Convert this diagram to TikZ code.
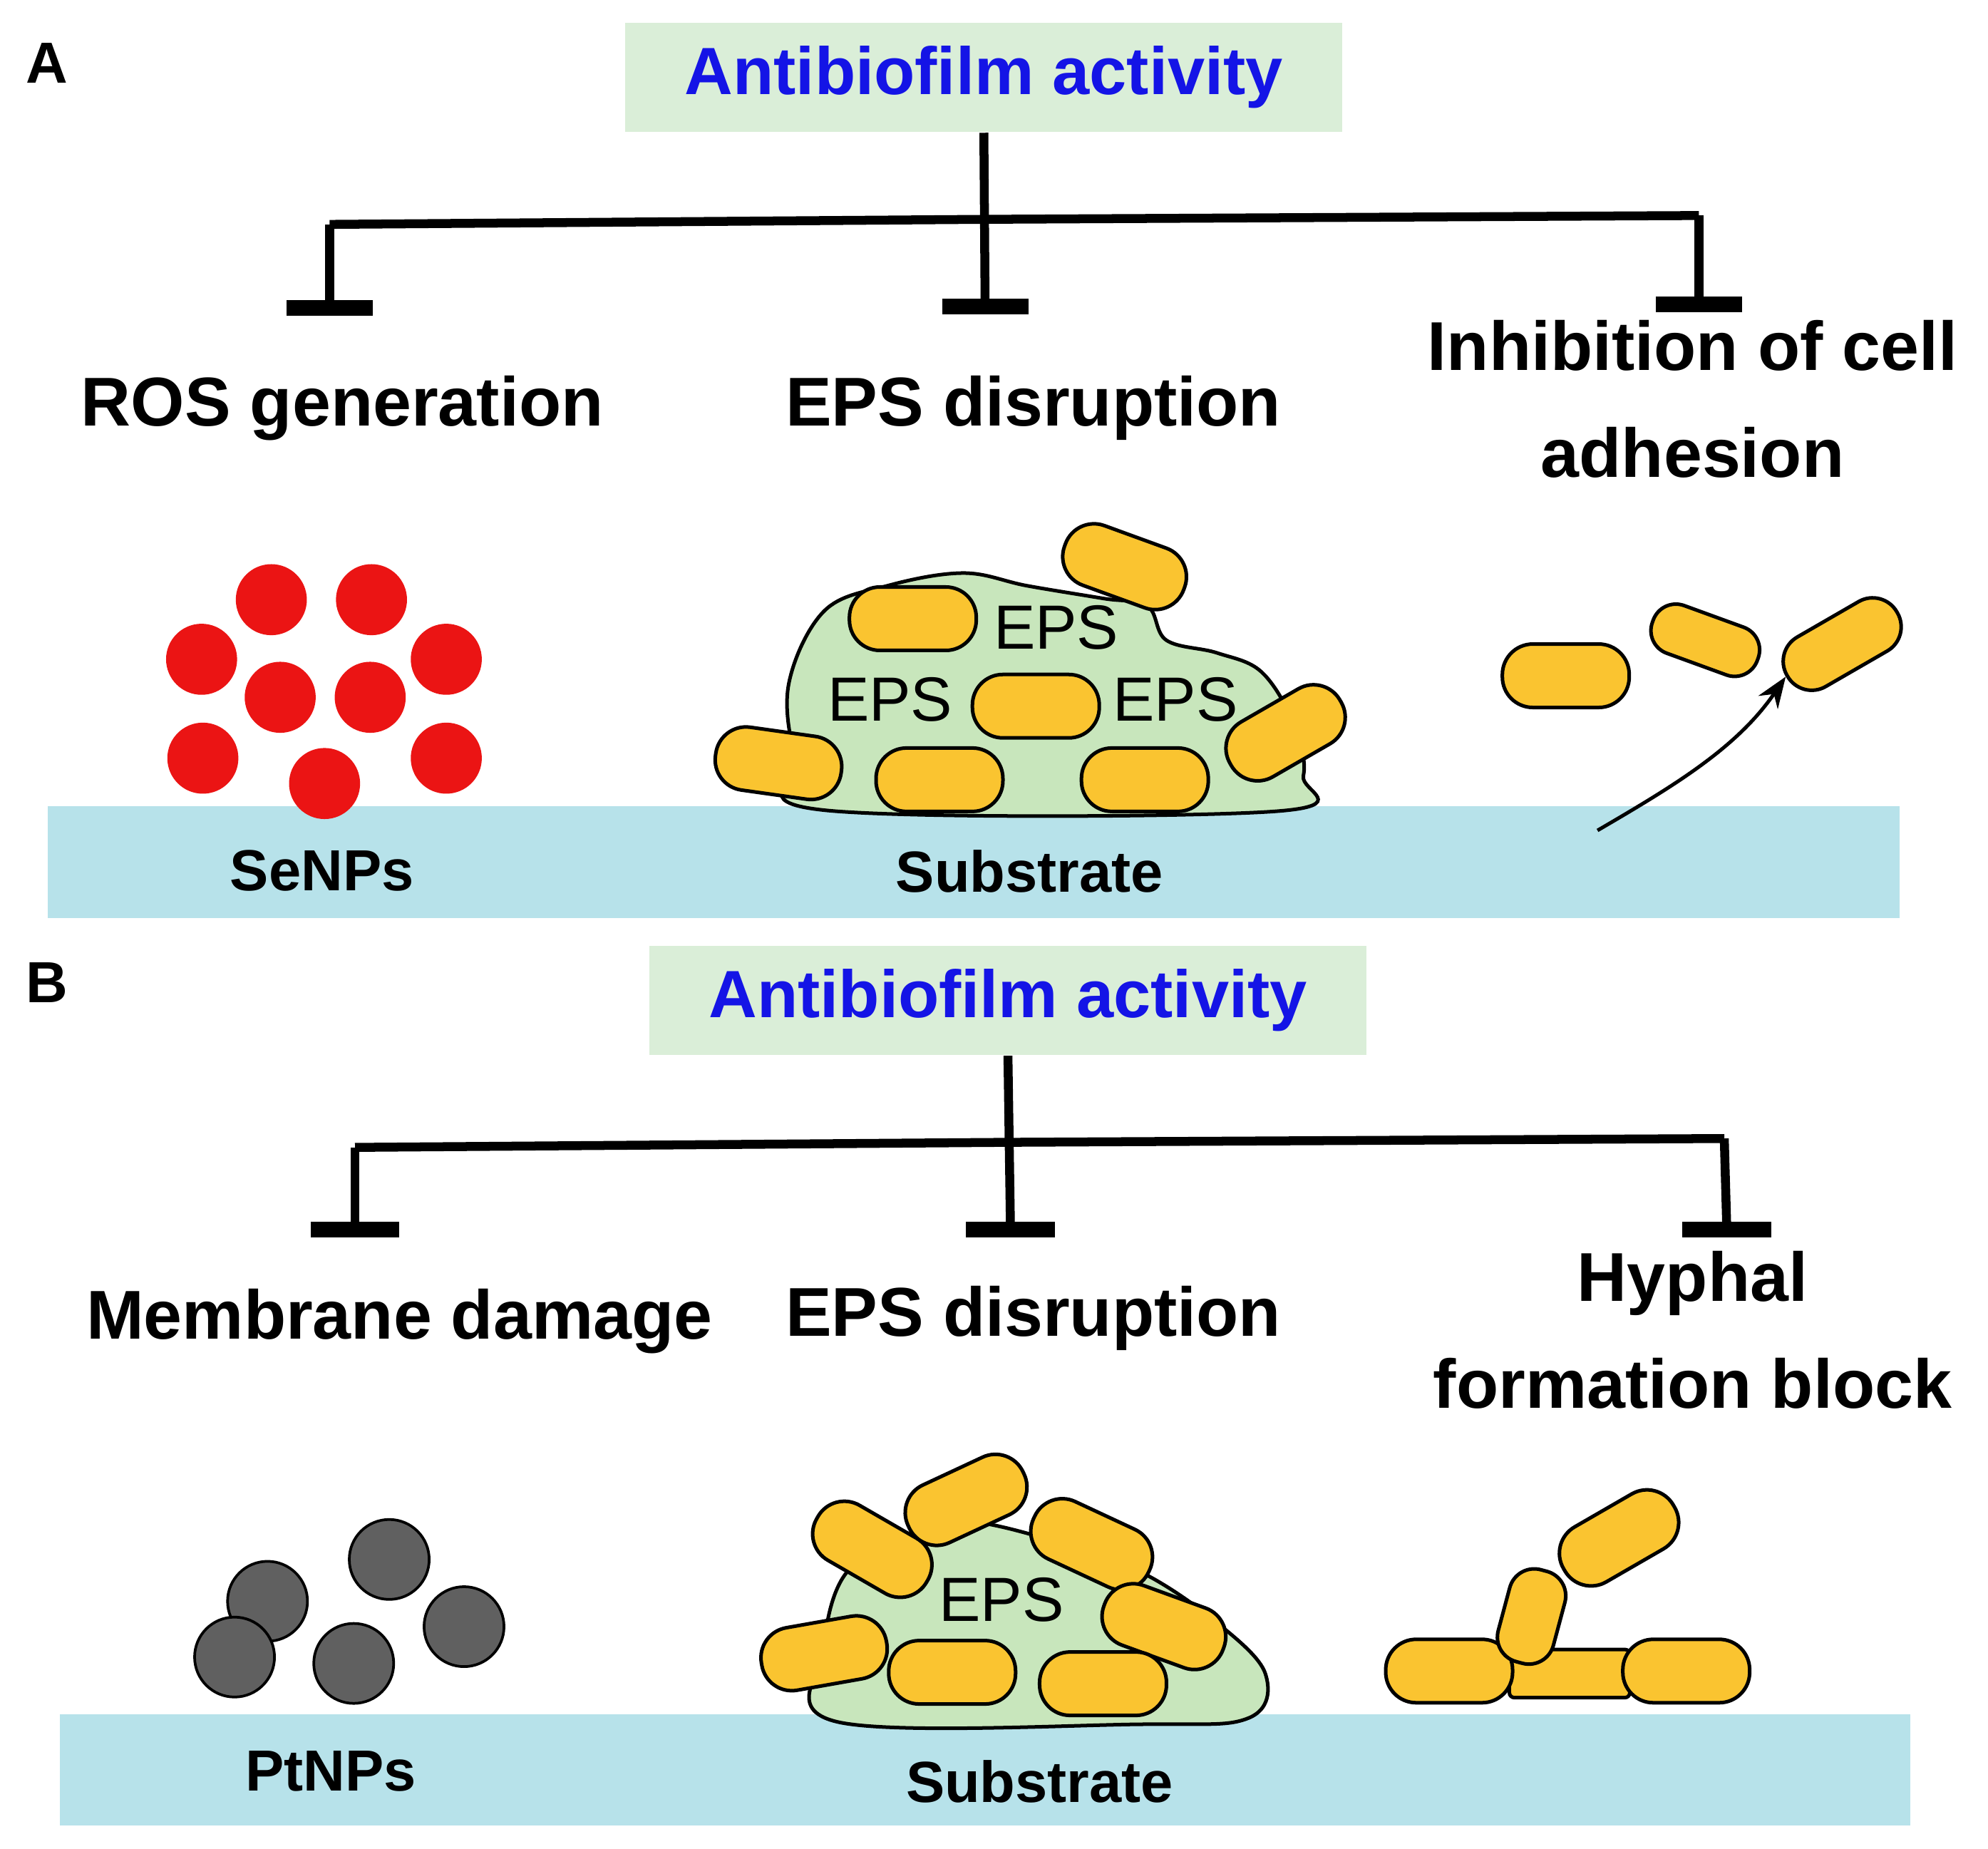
\documentclass[tikz,border=0pt]{standalone}
\usepackage{fontspec}
\setmainfont{Liberation Sans}
\usetikzlibrary{arrows.meta}
\definecolor{boxg}{RGB}{218,238,216}
\definecolor{eps}{RGB}{200,230,188}
\definecolor{sub}{RGB}{183,226,234}
\definecolor{cellc}{RGB}{250,196,48}
\definecolor{titleb}{RGB}{20,20,230}
\definecolor{np}{RGB}{235,20,20}
\definecolor{pt}{RGB}{96,96,96}
\begin{document}
\begin{tikzpicture}[x=0.01cm,y=-0.01cm,
  title/.style={fill=boxg,text=titleb,font=\bfseries\fontsize{15}{18}\selectfont,minimum width=5.65cm,minimum height=0.86cm},
  lab/.style={font=\bfseries\fontsize{15.5}{24}\selectfont,align=center},
  small/.style={font=\bfseries\fontsize{13}{15}\selectfont},
  epst/.style={font=\fontsize{14}{16}\selectfont},
  panel/.style={font=\bfseries\fontsize{13}{15}\selectfont},
  inh/.style={line width=2pt},
  bar/.style={line width=3.5pt},
  cell/.style={draw=black,fill=cellc,line width=0.8pt,rounded corners=0.24cm,minimum width=1cm,minimum height=0.5cm,inner sep=0pt},
  np/.style={circle,fill=np,minimum size=0.56cm,inner sep=0pt},
  ptn/.style={circle,draw=black,line width=0.6pt,fill=pt,minimum size=0.63cm,inner sep=0pt}]
\useasboundingbox (0,0) rectangle (1568,1458);
% ===== Panel A =====
\node[panel] (pA) at (37,50) {A};
\node[title] (tA) at (776,61) {Antibiofilm activity};
\coordinate (jA) at (777,173);
\coordinate (lA) at (260,177);
\coordinate (rA) at (1340,170);
\coordinate (lbA) at (260,243);
\coordinate (mbA) at (777,242);
\coordinate (rbA) at (1340,240);
\draw[inh] (tA.south) -- (mbA);
\draw[inh] (lA) -- (jA) -- (rA);
\draw[inh] (lA) -- (lbA);
\draw[inh] (rA) -- (rbA);
\draw[bar] ([xshift=-0.34cm]lbA) -- ([xshift=0.34cm]lbA);
\draw[bar] ([xshift=-0.34cm]mbA) -- ([xshift=0.34cm]mbA);
\draw[bar] ([xshift=-0.34cm]rbA) -- ([xshift=0.34cm]rbA);
\node[lab] (ros) at (270,322) {ROS generation};
\node[lab] (epsA) at (815,322) {EPS disruption};
\node[lab] (inhA) at (1335,315) {Inhibition of cell\\adhesion};
\node[fill=sub,minimum width=14.6cm,minimum height=0.88cm,inner sep=0pt] (subA) at (768,680) {};
\node[small] (se) at (254,687) {SeNPs};
\node[small] (sA) at (812,687) {Substrate};
\foreach \x/\y [count=\i] in {214/473,293/473,159/520,352/520,221/550,292/550,160/598,352/598,256/618}
  \node[np] (n\i) at (\x,\y) {};
\fill[eps] plot[smooth cycle,tension=0.6] coordinates {(650,639) (628,600) (622,540) (650,482) (700,462) (760,452) (810,462) (870,472) (905,478) (920,505) (960,515) (995,530) (1020,570) (1028,612) (1005,640)};
\draw[line width=0.8pt] plot[smooth cycle,tension=0.6] coordinates {(650,639) (628,600) (622,540) (650,482) (700,462) (760,452) (810,462) (870,472) (905,478) (920,505) (960,515) (995,530) (1020,570) (1028,612) (1005,640)};
\node[cell] (a1) at (720,488) {};
\node[cell,rotate=-20] (a2) at (887,447) {};
\node[cell] (a3) at (817,557) {};
\node[cell,rotate=-8] (a4) at (614,602) {};
\node[cell] (a5) at (741,615) {};
\node[cell] (a6) at (903,615) {};
\node[cell,rotate=30] (a7) at (1014,578) {};
\node[epst] (e1) at (833,495) {EPS};
\node[epst] (e2) at (702,552) {EPS};
\node[epst] (e3) at (927,552) {EPS};
\node[cell] (a8) at (1235,533) {};
\node[cell,rotate=-20,minimum width=0.88cm,minimum height=0.4cm,rounded corners=0.19cm] (a9) at (1345,505) {};
\node[cell,rotate=30,minimum height=0.45cm,rounded corners=0.22cm] (a10) at (1453,508) {};
\coordinate (arS) at (1260,655);
\draw[-{Stealth[length=7pt]},line width=0.8pt] (arS) .. controls (1320,620) and (1370,590) .. (a10.west);
% ===== Panel B =====
\node[panel] (pB) at (37,775) {B};
\node[title] (tB) at (795,789) {Antibiofilm activity};
\coordinate (jB) at (795,901);
\coordinate (lB) at (280,905);
\coordinate (rB) at (1360,898);
\coordinate (lbB) at (280,970);
\coordinate (mbB) at (797,970);
\coordinate (rbB) at (1362,970);
\draw[inh] (tB.south) -- (mbB);
\draw[inh] (lB) -- (jB) -- (rB);
\draw[inh] (lB) -- (lbB);
\draw[inh] (rB) -- (rbB);
\draw[bar] ([xshift=-0.35cm]lbB) -- ([xshift=0.35cm]lbB);
\draw[bar] ([xshift=-0.35cm]mbB) -- ([xshift=0.35cm]mbB);
\draw[bar] ([xshift=-0.35cm]rbB) -- ([xshift=0.35cm]rbB);
\node[lab] (mem) at (315,1042) {Membrane damage};
\node[lab] (epsB) at (815,1040) {EPS disruption};
\node[lab] (hyp) at (1335,1049) {Hyphal\\formation block};
\node[fill=sub,minimum width=14.59cm,minimum height=0.88cm,inner sep=0pt] (subB) at (777,1396) {};
\node[small] (ptl) at (261,1397) {PtNPs};
\node[small] (sB) at (820,1405) {Substrate};
\foreach \x/\y [count=\i] in {307/1230,211/1263,366/1283,185/1307,279/1312}
  \node[ptn] (p\i) at (\x,\y) {};
\fill[eps] plot[smooth cycle,tension=0.6] coordinates {(660,1358) (650,1300) (668,1240) (720,1215) (760,1200) (830,1215) (900,1240) (960,1280) (998,1320) (985,1355) (900,1360)};
\draw[line width=0.8pt] plot[smooth cycle,tension=0.6] coordinates {(660,1358) (650,1300) (668,1240) (720,1215) (760,1200) (830,1215) (900,1240) (960,1280) (998,1320) (985,1355) (900,1360)};
\node[epst] (e4) at (790,1262) {EPS};
\node[cell,rotate=-30] (b1) at (688,1222) {};
\node[cell,rotate=25] (b2) at (762,1183) {};
\node[cell,rotate=-25] (b3) at (861,1218) {};
\node[cell,rotate=-20] (b4) at (918,1283) {};
\node[cell,rotate=10] (b5) at (650,1304) {};
\node[cell] (b6) at (751,1319) {};
\node[cell] (b7) at (870,1328) {};
\node[cell,minimum width=0.95cm,minimum height=0.38cm,rounded corners=0.04cm] (h2) at (1238,1320) {};
\node[cell] (h1) at (1143,1318) {};
\node[cell] (h3) at (1330,1318) {};
\node[cell,rotate=75,minimum width=0.75cm,minimum height=0.45cm,rounded corners=0.2cm] (h4) at (1208,1275) {};
\node[cell,rotate=30] (h5) at (1277,1213) {};
\end{tikzpicture}
\end{document}
